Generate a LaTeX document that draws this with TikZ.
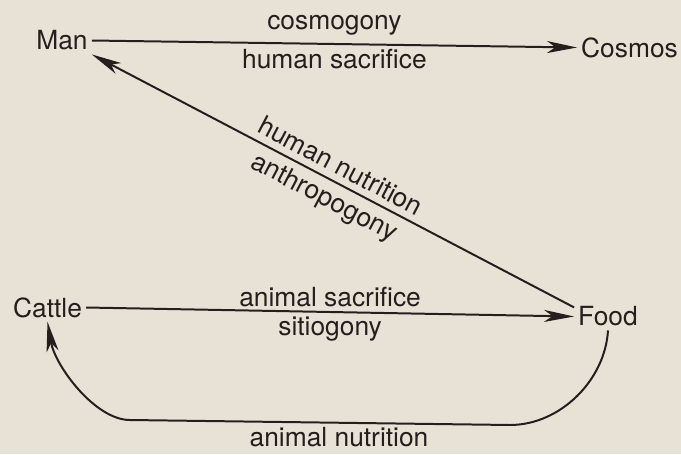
\documentclass[tikz,border=0pt]{standalone}
\usepackage{fontspec}
\setmainfont{TeX Gyre Heros}
\usepackage{xcolor}
\usetikzlibrary{arrows.meta}
\definecolor{paper}{RGB}{232,226,214}
\definecolor{ink}{RGB}{38,30,30}

\begin{document}
\begin{tikzpicture}[x=0.03cm, y=-0.03cm, >={Stealth[length=0.9cm, width=0.36cm, inset=0.25cm]},
		font=\fontsize{22.5}{27}\selectfont, every node/.style={text=ink},
		link/.style={draw=ink, line width=1.7pt, ->}]
	\useasboundingbox (0,0) rectangle (681,454);
	\fill[paper] (0,0) rectangle (681,454);
	% the four terms
	\node (man) at (62,40.5) {Man};
	\node (cosmos) at (629.5,47.5) {Cosmos};
	\node (cattle) at (47.5,307.5) {Cattle};
	\node (food) at (608,316.5) {Food};
	% connectors
	\draw[link] (man.east) -- node[midway, above=3pt] {cosmogony}
		node[midway, below] {human sacrifice} (cosmos.west);
	\draw[link] (food.165) -- node[midway, sloped, above=2pt] {human nutrition}
		node[midway, sloped, below=2pt] {anthropogony} (man.south east);
	\draw[link] (cattle.east) -- node[midway, above] {animal sacrifice}
		node[midway, below] {sitiogony} (food.west);
	\coordinate (botR) at (510,425);
	\coordinate (botL) at (130,420);
	\draw[link] (food.south) .. controls +(-3,50) and +(50,0) .. (botR)
		-- node[pos=0.45, below] {animal nutrition} (botL)
		.. controls +(-35,0) and +(7.5,44) .. (cattle.south);
\end{tikzpicture}
\end{document}
